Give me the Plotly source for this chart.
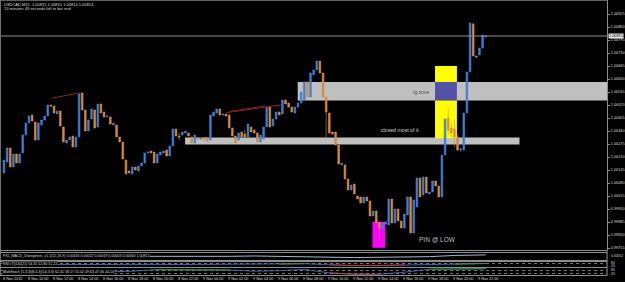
import plotly.graph_objects as go

# ---------------- data (USDCAD, M15) ----------------
bars = list(range(155))

open_ = [
 1.00130,1.00185,1.00255,1.00160,1.00225,1.00180,1.00230,1.00320,1.00380,1.00420,
 1.00385,1.00295,1.00370,1.00395,1.00415,1.00470,1.00465,1.00425,1.00440,1.00360,
 1.00280,1.00295,1.00315,1.00260,1.00310,1.00530,1.00445,1.00340,1.00400,1.00445,
 1.00360,1.00475,1.00435,1.00410,1.00410,1.00370,1.00370,1.00310,1.00285,1.00195,
 1.00140,1.00125,1.00160,1.00140,1.00165,1.00180,1.00230,1.00240,1.00235,1.00180,
 1.00220,1.00230,1.00245,1.00215,1.00265,1.00350,1.00315,1.00320,1.00330,1.00330,
 1.00310,1.00280,1.00305,1.00300,1.00305,1.00305,1.00295,1.00415,1.00430,1.00450,
 1.00420,1.00425,1.00420,1.00355,1.00315,1.00295,1.00335,1.00325,1.00310,1.00360,
 1.00345,1.00330,1.00285,1.00300,1.00360,1.00460,1.00365,1.00400,1.00435,1.00425,
 1.00495,1.00480,1.00460,1.00430,1.00460,1.00480,1.00495,1.00585,1.00510,1.00620,
 1.00645,1.00690,1.00630,1.00510,1.00430,1.00335,1.00335,1.00270,1.00170,1.00170,
 1.00100,1.00045,1.00075,1.00015,1.00010,0.99980,1.00010,0.99990,0.99915,0.99940,
 0.99880,0.99850,0.99875,0.99870,1.00000,0.99880,0.99950,0.99890,0.99855,0.99920,
 1.00010,0.99830,0.99960,1.00105,1.00020,1.00110,1.00025,1.00035,1.00090,1.00065,
 1.00010,1.00220,1.00405,1.00355,1.00350,1.00310,1.00245,1.00245,1.00430,1.00635,
 1.00875,1.00715,1.00720,1.00755,1.00810]
high = [
 1.00195,1.00255,1.00255,1.00225,1.00225,1.00225,1.00320,1.00380,1.00415,1.00420,
 1.00385,1.00380,1.00395,1.00415,1.00470,1.00470,1.00465,1.00440,1.00440,1.00360,
 1.00295,1.00310,1.00315,1.00310,1.00525,1.00530,1.00445,1.00395,1.00450,1.00445,
 1.00475,1.00475,1.00435,1.00415,1.00410,1.00380,1.00370,1.00310,1.00285,1.00195,
 1.00140,1.00160,1.00160,1.00165,1.00180,1.00230,1.00235,1.00240,1.00235,1.00225,
 1.00235,1.00240,1.00245,1.00265,1.00350,1.00350,1.00330,1.00335,1.00340,1.00330,
 1.00310,1.00320,1.00310,1.00305,1.00310,1.00310,1.00420,1.00435,1.00450,1.00450,
 1.00425,1.00425,1.00420,1.00355,1.00315,1.00330,1.00335,1.00345,1.00375,1.00360,
 1.00345,1.00330,1.00320,1.00360,1.00460,1.00460,1.00400,1.00435,1.00435,1.00495,
 1.00495,1.00480,1.00460,1.00460,1.00480,1.00535,1.00585,1.00585,1.00630,1.00645,
 1.00690,1.00690,1.00630,1.00510,1.00430,1.00335,1.00335,1.00270,1.00180,1.00170,
 1.00100,1.00070,1.00075,1.00015,1.00010,1.00010,1.00010,0.99990,0.99940,0.99940,
 0.99890,0.99880,0.99885,1.00000,1.00000,0.99950,0.99950,0.99890,0.99925,1.00010,
 1.00010,0.99995,1.00105,1.00105,1.00110,1.00110,1.00035,1.00090,1.00090,1.00065,
 1.00220,1.00400,1.00455,1.00385,1.00395,1.00320,1.00255,1.00430,1.00635,1.00880,
 1.00880,1.00715,1.00755,1.00820,1.00820]
low = [
 1.00130,1.00185,1.00160,1.00160,1.00180,1.00180,1.00230,1.00320,1.00380,1.00390,
 1.00295,1.00295,1.00370,1.00395,1.00415,1.00460,1.00430,1.00425,1.00365,1.00285,
 1.00280,1.00295,1.00260,1.00260,1.00310,1.00445,1.00340,1.00340,1.00400,1.00355,
 1.00360,1.00430,1.00410,1.00410,1.00375,1.00370,1.00310,1.00285,1.00200,1.00125,
 1.00130,1.00125,1.00145,1.00140,1.00165,1.00180,1.00230,1.00230,1.00180,1.00180,
 1.00220,1.00230,1.00215,1.00215,1.00265,1.00315,1.00295,1.00320,1.00330,1.00315,
 1.00280,1.00280,1.00295,1.00295,1.00290,1.00285,1.00295,1.00415,1.00430,1.00420,
 1.00420,1.00415,1.00355,1.00315,1.00280,1.00295,1.00310,1.00310,1.00310,1.00335,
 1.00330,1.00285,1.00285,1.00300,1.00360,1.00360,1.00365,1.00400,1.00420,1.00425,
 1.00475,1.00460,1.00435,1.00430,1.00460,1.00480,1.00495,1.00510,1.00510,1.00620,
 1.00645,1.00630,1.00510,1.00300,1.00330,1.00325,1.00270,1.00175,1.00170,1.00100,
 1.00045,1.00045,1.00025,1.00000,0.99980,0.99980,0.99990,0.99915,0.99915,0.99880,
 0.99780,0.99850,0.99875,0.99870,0.99880,0.99880,0.99890,0.99855,0.99855,0.99920,
 0.99830,0.99830,0.99960,1.00010,1.00020,1.00030,1.00025,1.00035,1.00065,1.00010,
 1.00010,1.00220,1.00320,1.00310,1.00260,1.00240,1.00235,1.00245,1.00430,1.00635,
 1.00715,1.00710,1.00720,1.00755,1.00810]
close = [
 1.00195,1.00255,1.00160,1.00225,1.00180,1.00225,1.00320,1.00380,1.00415,1.00390,
 1.00295,1.00380,1.00395,1.00415,1.00470,1.00465,1.00430,1.00440,1.00365,1.00285,
 1.00295,1.00310,1.00260,1.00310,1.00525,1.00445,1.00340,1.00395,1.00450,1.00355,
 1.00475,1.00430,1.00410,1.00415,1.00375,1.00380,1.00310,1.00285,1.00200,1.00125,
 1.00130,1.00160,1.00145,1.00165,1.00180,1.00230,1.00235,1.00230,1.00180,1.00225,
 1.00235,1.00240,1.00215,1.00265,1.00350,1.00315,1.00310,1.00335,1.00340,1.00315,
 1.00280,1.00320,1.00300,1.00305,1.00300,1.00290,1.00420,1.00435,1.00450,1.00420,
 1.00425,1.00415,1.00355,1.00315,1.00280,1.00330,1.00310,1.00310,1.00375,1.00335,
 1.00330,1.00285,1.00320,1.00360,1.00460,1.00360,1.00400,1.00435,1.00420,1.00495,
 1.00475,1.00460,1.00435,1.00460,1.00480,1.00535,1.00585,1.00510,1.00630,1.00645,
 1.00690,1.00630,1.00510,1.00435,1.00330,1.00325,1.00270,1.00175,1.00180,1.00100,
 1.00045,1.00070,1.00025,1.00000,0.99980,1.00010,0.99990,0.99915,0.99940,0.99880,
 0.99855,0.99880,0.99885,1.00000,0.99880,0.99950,0.99890,0.99855,0.99925,1.00010,
 0.99830,0.99995,1.00105,1.00010,1.00110,1.00030,1.00035,1.00090,1.00065,1.00010,
 1.00220,1.00400,1.00345,1.00330,1.00310,1.00245,1.00250,1.00430,1.00635,1.00880,
 1.00715,1.00710,1.00755,1.00820,1.00815]

price_ticks = [1.00925, 1.00860, 1.00795, 1.00730, 1.00665, 1.00600, 1.00535, 1.00470,
               1.00405, 1.00340, 1.00275, 1.00210, 1.00145, 1.00080, 1.00015, 0.99950,
               0.99885, 0.99820, 0.99755]
current_price = 1.00815

time_label_bars = [0, 8, 16, 24, 32, 40, 48, 56, 64, 72, 80, 88, 96, 104, 112, 120, 128, 136, 144, 152]
time_labels = ["8 Nov 2010", "8 Nov 10:00", "8 Nov 12:00", "8 Nov 14:00", "8 Nov 16:00",
               "8 Nov 18:00", "8 Nov 20:00", "8 Nov 22:00", "9 Nov 00:00", "9 Nov 02:00",
               "9 Nov 04:00", "9 Nov 06:00", "9 Nov 08:00", "9 Nov 10:00", "9 Nov 12:00",
               "9 Nov 14:00", "9 Nov 16:00", "9 Nov 18:00", "9 Nov 20:00", "9 Nov 22:00"]

# zones: (bar start, bar end, price low, price high)
upper_zone = [93.9, 192.8, 1.00492, 1.00585]
lower_zone = [57.9, 164.8, 1.00273, 1.00307]
yellow_box = [137.8, 144.8, 1.00304, 1.00665]
tg_box = [137.8, 144.8, 1.00492, 1.00585]
pin_box = [117.8, 121.9, 0.99756, 0.99886]

# trend lines: bars, prices
trend1_bars = [15.3, 24.7];  trend1_prices = [1.00504, 1.00532]
trend2_bars = [71.2, 88.4];  trend2_prices = [1.00432, 1.00470]
trend3_bars = [72.0, 83.6];  trend3_prices = [1.00437, 1.00466]

# indicator windows (sampled)
ind_bars = [0, 8, 16, 24, 32, 40, 48, 56, 64, 72, 80, 88, 96, 104, 112, 120, 128, 136, 144, 152, 154]
macd_vals = [0.05, 0.10, 0.05, 0.00, 0.05, 0.10, 0.05, 0.00, 0.00, 0.05, 0.15, 0.10, 0.05,
             -0.20, -0.30, -0.25, -0.10, -0.05, 0.30, 0.40, 0.45]
rsi_vals = [48, 52, 50, 47, 50, 52, 46, 50, 52, 54, 50, 58, 66, 44, 28, 30, 42, 50, 58, 68, 70]
stoch_vals = [45, 48, 50, 44, 46, 52, 75, 76, 74, 72, 55, 62, 80, 30, 12, 10, 40, 82, 86, 88, 90]

# ---------------- styling ----------------
UP = "#3f7fd4"
DN = "#d98b3c"
GRID = "#8c8c8c"
TXT = "#d8d8d8"
FONT = "Liberation Sans, Arial, sans-serif"
W, H = 625, 282
PLOT_R = 610 / W
XR = [-1.27, 192.8]

def py(px):  # pixel row -> paper fraction
    return 1 - px / H

fig = go.Figure()

fig.add_trace(go.Candlestick(
    x=bars, open=open_, high=high, low=low, close=close,
    increasing=dict(line=dict(color=UP, width=0.6), fillcolor=UP),
    decreasing=dict(line=dict(color=DN, width=0.6), fillcolor=DN),
    whiskerwidth=0, hoverinfo="skip", showlegend=False))

for bx, pr in [(trend1_bars, trend1_prices), (trend2_bars, trend2_prices), (trend3_bars, trend3_prices)]:
    fig.add_trace(go.Scatter(x=bx, y=pr, mode="lines", line=dict(color="#8e2222", width=1),
                             hoverinfo="skip", showlegend=False))

# indicator lines
fig.add_trace(go.Scatter(x=ind_bars, y=macd_vals, mode="lines", xaxis="x2", yaxis="y2",
                         line=dict(color="#9fb6d6", width=1), hoverinfo="skip", showlegend=False))
fig.add_trace(go.Scatter(x=ind_bars, y=rsi_vals, mode="lines", xaxis="x3", yaxis="y3",
                         line=dict(color="#3562b8", width=1), hoverinfo="skip", showlegend=False))
fig.add_trace(go.Scatter(x=ind_bars, y=[v if v < 45 else None for v in rsi_vals], mode="lines",
                         xaxis="x3", yaxis="y3", line=dict(color="#c83030", width=1),
                         hoverinfo="skip", showlegend=False))
fig.add_trace(go.Scatter(x=ind_bars, y=[v if v > 57 else None for v in rsi_vals], mode="lines",
                         xaxis="x3", yaxis="y3", line=dict(color="#2f9a2f", width=1),
                         hoverinfo="skip", showlegend=False))
fig.add_trace(go.Scatter(x=ind_bars, y=stoch_vals, mode="lines", xaxis="x4", yaxis="y4",
                         line=dict(color="#3562b8", width=1), hoverinfo="skip", showlegend=False))
fig.add_trace(go.Scatter(x=ind_bars, y=[v if v < 35 else None for v in stoch_vals], mode="lines",
                         xaxis="x4", yaxis="y4", line=dict(color="#c83030", width=1),
                         hoverinfo="skip", showlegend=False))
fig.add_trace(go.Scatter(x=ind_bars, y=[v if v > 70 else None for v in stoch_vals], mode="lines",
                         xaxis="x4", yaxis="y4", line=dict(color="#2f9a2f", width=1),
                         hoverinfo="skip", showlegend=False))

shapes = []
def rect(z, color):
    shapes.append(dict(type="rect", xref="x", yref="y", x0=z[0], x1=z[1], y0=z[2], y1=z[3],
                       fillcolor=color, line=dict(width=0), layer="below"))
rect(upper_zone, "#c0c0c0")
rect(lower_zone, "#c0c0c0")
rect(yellow_box, "#ffff00")
rect(tg_box, "#5252a8")
rect(pin_box, "#ff00ff")

# current price line
shapes.append(dict(type="line", xref="paper", yref="y", x0=0, x1=PLOT_R, y0=current_price,
                   y1=current_price, line=dict(color="#909090", width=1)))
# frame & separators
shapes.append(dict(type="line", xref="paper", yref="paper", x0=0, x1=PLOT_R, y0=py(0.5), y1=py(0.5),
                   line=dict(color="#606060", width=1)))
shapes.append(dict(type="line", xref="paper", yref="paper", x0=0.5 / W, x1=0.5 / W, y0=py(0), y1=py(276),
                   line=dict(color="#707070", width=1)))
for sep in [250.5, 252.5, 260.5, 261.5, 267.5, 275.5]:
    shapes.append(dict(type="line", xref="paper", yref="paper", x0=0, x1=PLOT_R, y0=py(sep), y1=py(sep),
                       line=dict(color=GRID, width=1)))
shapes.append(dict(type="line", xref="paper", yref="paper", x0=PLOT_R, x1=PLOT_R, y0=py(250), y1=py(276),
                   line=dict(color=GRID, width=1)))
for lvl in [263.5, 270.5, 273.5]:
    shapes.append(dict(type="line", xref="paper", yref="paper", x0=0, x1=PLOT_R, y0=py(lvl), y1=py(lvl),
                       line=dict(color="#707070", width=1, dash="dot")))

ann = []
def txt(x, y, s, size, color, xref="x", yref="y", xanchor="center", bg=None):
    d = dict(x=x, y=y, xref=xref, yref=yref, text=s, showarrow=False, xanchor=xanchor,
             yanchor="middle", font=dict(size=size, color=color, family=FONT))
    if bg:
        d["bgcolor"] = bg
        d["borderpad"] = 0
    ann.append(d)

txt(133.6, 1.00533, "tg zone", 5, "#505050")
txt(126.6, 1.00345, "closed most of it", 5.2, "#cfcfcf")
txt(138.7, 0.99797, "PIN @ LOW", 6.5, "#bdbdbd")

txt(2 / W, py(4), "USDCAD,M15  1.00815 1.00815 1.00814 1.00814", 4, TXT, "paper", "paper", "left")
txt(2 / W, py(8.5), "13 minutes 49 seconds left to bar end", 4, TXT, "paper", "paper", "left")

for b, s in zip(time_label_bars, time_labels):
    ann.append(dict(x=b, y=py(279), xref="x", yref="paper", text=s, showarrow=False,
                    xanchor="left", yanchor="middle", xshift=-3,
                    font=dict(size=3.8, color=TXT, family=FONT)))

txt(611 / W, current_price, "1.00815", 3.8, "#000000", "paper", "y", "left", bg="#e8e8e8")

txt(2 / W, py(255.5), "FX5_MACD_Divergence_v1.1(12,26,9) 0.00016 0.00022 0.00019 0.00003 0.00000 1.00812", 3.6,
    TXT, "paper", "paper", "left", bg="#000000")
txt(2 / W, py(264), "RSI (7)(14)(21) 54.31 52.80 51.22", 3.6, TXT, "paper", "paper", "left", bg="#000000")
txt(2 / W, py(271.5), "MultiStoch (5,3,3)(8,3,3)(14,3,3) 62.41 58.17 55.02 49.63 47.36 44.10", 3.6,
    TXT, "paper", "paper", "left", bg="#000000")
txt(612 / W, py(255.5), "0.00052", 3.4, TXT, "paper", "paper", "left")
txt(612 / W, py(263), "80", 3.4, TXT, "paper", "paper", "left")
txt(612 / W, py(266), "20", 3.4, TXT, "paper", "paper", "left")
txt(612 / W, py(270), "80", 3.4, TXT, "paper", "paper", "left")
txt(612 / W, py(273.5), "20", 3.4, TXT, "paper", "paper", "left")

hidden_x = dict(range=XR, showgrid=False, zeroline=False, showticklabels=False, ticks="",
                showline=False, fixedrange=True)
fig.update_layout(
    width=W, height=H, margin=dict(l=0, r=0, t=0, b=0),
    paper_bgcolor="#000000", plot_bgcolor="rgba(0,0,0,0)",
    showlegend=False, shapes=shapes, annotations=ann,
    boxgap=0.45, boxgroupgap=0,
    xaxis=dict(domain=[0, PLOT_R], anchor="y", rangeslider=dict(visible=False), **hidden_x),
    yaxis=dict(domain=[py(250), 1], range=[0.99745, 1.00995], side="right", anchor="x",
               tickvals=price_ticks, ticktext=[f"{v:.5f}" for v in price_ticks],
               tickfont=dict(size=3.8, color=TXT, family=FONT), ticks="outside", ticklen=2,
               tickcolor=GRID, showline=True, linecolor=GRID, linewidth=1,
               showgrid=False, zeroline=False, fixedrange=True),
    xaxis2=dict(domain=[0, PLOT_R], anchor="y2", **hidden_x),
    yaxis2=dict(domain=[py(260), py(253)], range=[-1, 1], visible=False, anchor="x2"),
    xaxis3=dict(domain=[0, PLOT_R], anchor="y3", **hidden_x),
    yaxis3=dict(domain=[py(267), py(262)], range=[0, 100], visible=False, anchor="x3"),
    xaxis4=dict(domain=[0, PLOT_R], anchor="y4", **hidden_x),
    yaxis4=dict(domain=[py(275), py(268)], range=[0, 100], visible=False, anchor="x4"),
)

fig.write_html("out.html")
